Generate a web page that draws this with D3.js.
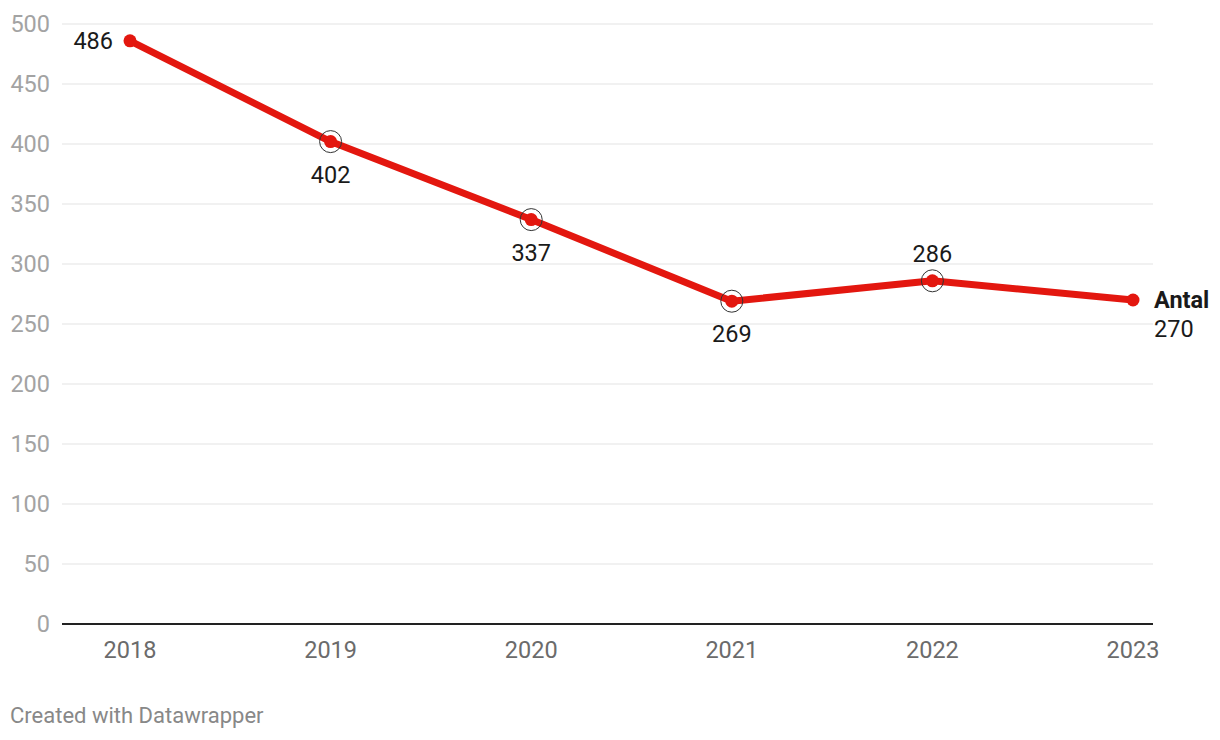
<!DOCTYPE html>
<html><head><meta charset="utf-8">
<script src="https://cdn.jsdelivr.net/npm/d3@7"></script>
<style>body{margin:0;background:#fff;font-family:Roboto,"Noto Sans",sans-serif}</style>
</head><body><svg id="c" width="1220" height="740"></svg>
<script>
const years = ["2018","2019","2020","2021","2022","2023"];
const values = [486, 402, 337, 269, 286, 270];
const yTicks = [0,50,100,150,200,250,300,350,400,450,500];
const labelPos = ["left","below","below","below","above","end"];
const highlighted = [false,true,true,true,true,false];
const seriesName = "Antal";

const svg = d3.select("#c");
const x = d3.scalePoint().domain(years).range([130,1133]);
const y = d3.scaleLinear().domain([0,500]).range([624,24]);
const red = "#e3170f";
const fs = 23.5;

const g = svg.append("g");
yTicks.forEach(t=>{
  if(t>0) g.append("line").attr("x1",62).attr("x2",1153).attr("y1",y(t)).attr("y2",y(t)).attr("stroke","#e3e3e3").attr("stroke-width",1);
  g.append("text").attr("x",50).attr("y",y(t)).attr("dy","0.35em").attr("text-anchor","end")
   .attr("font-size",fs).attr("fill","#a3a3a3").text(t);
});
g.append("line").attr("x1",62).attr("x2",1153).attr("y1",y(0)).attr("y2",y(0)).attr("stroke","#222").attr("stroke-width",2);
years.forEach(yr=>{
  g.append("text").attr("x",x(yr)).attr("y",658).attr("text-anchor","middle").attr("font-size",fs).attr("fill","#6b6b6b").text(yr);
});
const line = d3.line().x((d,i)=>x(years[i])).y(d=>y(d));
svg.append("path").datum(values).attr("d",line).attr("fill","none").attr("stroke",red).attr("stroke-width",7).attr("stroke-linejoin","round").attr("stroke-linecap","round");
values.forEach((v,i)=>{
  svg.append("circle").attr("cx",x(years[i])).attr("cy",y(v)).attr("r",6.5).attr("fill",red);
  if(highlighted[i]) svg.append("circle").attr("cx",x(years[i])).attr("cy",y(v)).attr("r",11).attr("fill","none").attr("stroke","#333").attr("stroke-width",1);
  const p = labelPos[i];
  const t = svg.append("text").attr("font-size",fs).attr("fill","#1a1a1a");
  if(p==="left") t.attr("x",x(years[i])-17).attr("y",y(v)).attr("dy","0.35em").attr("text-anchor","end").text(v);
  else if(p==="below") t.attr("x",x(years[i])).attr("y",y(v)+41).attr("text-anchor","middle").text(v);
  else if(p==="above") t.attr("x",x(years[i])).attr("y",y(v)-19).attr("text-anchor","middle").text(v);
  else {
    svg.append("text").attr("x",x(years[i])+21).attr("y",y(v)+8).attr("font-size",fs).attr("font-weight","bold").attr("fill","#1a1a1a").text(seriesName);
    t.attr("x",x(years[i])+21).attr("y",y(v)+37).text(v);
  }
});
svg.append("text").attr("x",10).attr("y",723).attr("font-size",22).attr("fill","#888").text("Created with Datawrapper");
</script></body></html>
